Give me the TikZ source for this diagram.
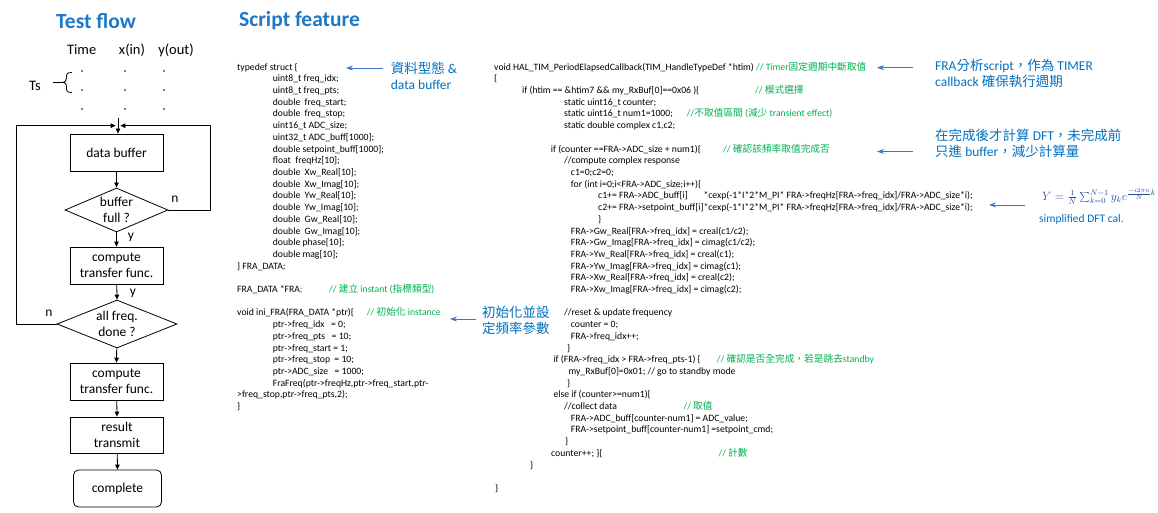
\documentclass[tikz,border=0pt]{standalone}
\usepackage{fontspec}
\setmainfont{Carlito}
\newfontfamily\cjk{Noto Sans CJK TC}
\usetikzlibrary{arrows.meta,shapes.geometric}

\definecolor{titleblue}{RGB}{31,119,200}
\definecolor{noteblue}{RGB}{0,112,192}
\definecolor{mathblue}{RGB}{31,78,160}
\definecolor{arrowblue}{RGB}{68,114,196}
\definecolor{cmtgreen}{RGB}{0,176,80}

% vertical position of a code line (11.7pt line pitch)
\newcommand\rowy[1]{67.7+11.7*#1}

\begin{document}
\begin{tikzpicture}[x=1pt,y=-1pt,
  title/.style={font=\fontsize{21.5}{24}\selectfont\bfseries, text=titleblue, inner sep=0pt},
  flow/.style={font=\fontsize{13.5}{16}\selectfont, inner sep=0pt},
  head/.style={font=\fontsize{14.5}{17}\selectfont, inner sep=0pt},
  box/.style={draw, line width=0.8pt, minimum width=93pt, minimum height=37pt, align=center, inner sep=0pt, font=\fontsize{13.5}{16}\selectfont},
  dia/.style={draw, diamond, line width=0.8pt, inner sep=0pt},
  arr/.style={-{Triangle[length=5pt,width=4.5pt]}, line width=0.8pt},
  barr/.style={-{Stealth[length=7pt,width=5pt]}, draw=arrowblue, line width=0.9pt},
  code/.style={anchor=west, inner sep=0pt, font=\fontsize{9.7}{11.7}\selectfont, text height=7pt, text depth=2pt},
  cmt/.style={code, text=cmtgreen},
  note/.style={anchor=west, align=left, inner sep=0pt, text=noteblue, font=\fontsize{13.5}{16}\selectfont}]
\useasboundingbox (0,0) rectangle (1158,513);

% ---------- titles ----------
\node[title] (t1) at (96,21) {Test flow};
\node[title, anchor=west] (t2) at (239,21) {Script feature};

% ---------- sample table ----------
\node[head] (hT) at (81.7,50) {Time};
\node[head] (hx) at (132,50) {x(in)};
\node[head] (hy) at (176,50) {y(out)};
\foreach \yy in {71,90,109} {
  \fill (82,\yy) circle (0.9pt);
  \fill (125,\yy) circle (0.9pt);
  \fill (164,\yy) circle (0.9pt);
}
\node[head] (ts) at (35,86) {Ts};
\draw[line width=0.8pt] (72,72.5) .. controls (66.5,72.5) and (66.5,74) .. (66.5,78)
  .. controls (66.5,81) and (65,82.3) .. (63,82.3)
  .. controls (65,82.6) and (66.5,83.5) .. (66.5,87)
  .. controls (66.5,91) and (66.5,92.5) .. (72,92.5);
\draw[line width=0.8pt] (53,82.3) -- (63,82.3);

% ---------- flow chart ----------
\node[box] (db) at (116.5,152.5) {data buffer};
\node[dia, minimum width=103pt, minimum height=44pt] (bf) at (116.5,210) {};
\node[flow, align=center] (bft) at (116.5,210) {buffer\\full ?};
\node[box] (ctf1) at (116.5,265.5) {compute\\transfer func.};
\node[dia, minimum width=120pt, minimum height=48pt] (af) at (117,324) {};
\node[flow, align=center] (aft) at (117,324) {all freq.\\done ?};
\node[box] (ctf2) at (116.5,381.5) {compute\\transfer func.};
\node[box, minimum height=36pt] (rt) at (117,435) {result\\transmit};
\node[box, rounded corners=5pt, minimum width=88pt] (cp) at (117.5,488.5) {complete};

\coordinate (jt) at (118,118.5);
\coordinate (rc) at (210,125.7);
\coordinate (lc) at (16.7,125.7);
\coordinate (jr) at (120.3,125.7);
\coordinate (jl) at (115.7,125.7);

\draw[arr] (jt) -- (jt |- db.north);
\draw[arr] (db) -- (bf.north);
\draw[arr] (bf) -- (ctf1.north);
\draw[arr] (ctf1) -- (af.north);
\draw[arr] (af) -- (ctf2.north);
\draw[arr] (ctf2) -- (rt.north);
\draw[arr] (rt) -- (cp.north);
\draw[arr] (bf.east) -| (rc) -- (jr);
\draw[arr] (af.west) -| (lc) -- (jl);

\node[flow] (ln1) at (175,199) {n};
\node[flow] (ly1) at (131,237) {y};
\node[flow] (ly2) at (133,293) {y};
\node[flow] (ln2) at (49,313) {n};

% ---------- struct and init code ----------
\node[code] (a0) at (237,\rowy{0}) {typedef struct \{};
\node[code] (a1) at (272.7,\rowy{1}) {uint8\_t freq\_idx;};
\node[code] (a2) at (272.7,\rowy{2}) {uint8\_t freq\_pts;};
\node[code] (a3) at (272.7,\rowy{3}) {double\ \ freq\_start;};
\node[code] (a4) at (272.7,\rowy{4}) {double\ \ freq\_stop;};
\node[code] (a5) at (272.7,\rowy{5}) {uint16\_t ADC\_size;};
\node[code] (a6) at (272.7,\rowy{6}) {uint32\_t ADC\_buff[1000];};
\node[code] (a7) at (272.7,\rowy{7}) {double setpoint\_buff[1000];};
\node[code] (a8) at (272.7,\rowy{8}) {float\ \ freqHz[10];};
\node[code] (a9) at (272.7,\rowy{9}) {double\ \ Xw\_Real[10];};
\node[code] (a10) at (272.7,\rowy{10}) {double\ \ Xw\_Imag[10];};
\node[code] (a11) at (272.7,\rowy{11}) {double\ \ Yw\_Real[10];};
\node[code] (a12) at (272.7,\rowy{12}) {double\ \ Yw\_Imag[10];};
\node[code] (a13) at (272.7,\rowy{13}) {double\ \ Gw\_Real[10];};
\node[code] (a14) at (272.7,\rowy{14}) {double\ \ Gw\_Imag[10];};
\node[code] (a15) at (272.7,\rowy{15}) {double phase[10];};
\node[code] (a16) at (272.7,\rowy{16}) {double mag[10];};
\node[code] (a17) at (237,\rowy{17}) {\} FRA\_DATA;};
\node[code] (a19) at (237,\rowy{19}) {FRA\_DATA *FRA\textcolor{noteblue}{;}};
\node[cmt] (c19) at (329,\rowy{19}) {// {\cjk 建立} instant ({\cjk 指標類型})};
\node[code] (a21) at (237,\rowy{21}) {void ini\_FRA(FRA\_DATA *ptr)\{};
\node[cmt] (c21) at (366.7,\rowy{21}) {// {\cjk 初始化} instance};
\node[code] (a22) at (272.7,\rowy{22}) {ptr->freq\_idx\ \ \ = 0;};
\node[code] (a23) at (272.7,\rowy{23}) {ptr->freq\_pts\ \ \ = 10;};
\node[code] (a24) at (272.7,\rowy{24}) {ptr->freq\_start = 1;};
\node[code] (a25) at (272.7,\rowy{25}) {ptr->freq\_stop\ \ = 10;};
\node[code] (a26) at (272.7,\rowy{26}) {ptr->ADC\_size\ \ \ = 1000;};
\node[code] (a27) at (272.7,\rowy{27}) {FraFreq(ptr->freqHz,ptr->freq\_start,ptr-};
\node[code] (a28) at (237,\rowy{28}) {>freq\_stop,ptr->freq\_pts,2);};
\node[code] (a29) at (237,\rowy{29}) {\}};

% ---------- timer callback code ----------
\node[code] (b0) at (494,\rowy{0}) {void HAL\_TIM\_PeriodElapsedCallback(TIM\_HandleTypeDef *htim) \textcolor{cmtgreen}{// Timer{\cjk 固定週期中斷取值}}};
\node[code] (b1) at (494,\rowy{1}) {\{};
\node[code] (b2) at (522,\rowy{2}) {if (htim == \&htim7 \&\& my\_RxBuf[0]==0x06 )\{};
\node[cmt] (d2) at (755,\rowy{2}) {// {\cjk 模式選擇}};
\node[code] (b3) at (564,\rowy{3}) {static uint16\_t counter;};
\node[code] (b4) at (564,\rowy{4}) {static uint16\_t num1=1000;};
\node[cmt] (d4) at (686.7,\rowy{4}) {//{\cjk 不取值區間} ({\cjk 減少} transient effect)};
\node[code] (b5) at (564,\rowy{5}) {static double complex c1,c2;};
\node[code] (b7) at (550.7,\rowy{7}) {if (counter ==FRA->ADC\_size + num1)\{};
\node[cmt] (d7) at (723,\rowy{7}) {// {\cjk 確認該頻率取值完成否}};
\node[code] (b8) at (564,\rowy{8}) {//compute complex response};
\node[code] (b9) at (570.7,\rowy{9}) {c1=0;c2=0;};
\node[code] (b10) at (570.7,\rowy{10}) {for (int i=0;i<FRA->ADC\_size;i++)\{};
\node[code] (b11) at (598,\rowy{11}) {\rlap{c1+= FRA->ADC\_buff[i]}\phantom{c2+= FRA->setpoint\_buff[i]}*cexp(-1*I*2*M\_PI* FRA->freqHz[FRA->freq\_idx]/FRA->ADC\_size*i);};
\node[code] (b12) at (598,\rowy{12}) {c2+= FRA->setpoint\_buff[i]*cexp(-1*I*2*M\_PI* FRA->freqHz[FRA->freq\_idx]/FRA->ADC\_size*i);};
\node[code] (b13) at (598,\rowy{13}) {\}};
\node[code] (b14) at (570.7,\rowy{14}) {FRA->Gw\_Real[FRA->freq\_idx] = creal(c1/c2);};
\node[code] (b15) at (570.7,\rowy{15}) {FRA->Gw\_Imag[FRA->freq\_idx] = cimag(c1/c2);};
\node[code] (b16) at (570.7,\rowy{16}) {FRA->Yw\_Real[FRA->freq\_idx] = creal(c1);};
\node[code] (b17) at (570.7,\rowy{17}) {FRA->Yw\_Imag[FRA->freq\_idx] = cimag(c1);};
\node[code] (b18) at (570.7,\rowy{18}) {FRA->Xw\_Real[FRA->freq\_idx] = creal(c2);};
\node[code] (b19) at (570.7,\rowy{19}) {FRA->Xw\_Imag[FRA->freq\_idx] = cimag(c2);};
\node[code] (b21) at (564,\rowy{21}) {//reset \& update frequency};
\node[code] (b22) at (570.7,\rowy{22}) {counter = 0;};
\node[code] (b23) at (570.7,\rowy{23}) {FRA->freq\_idx++;};
\node[code] (b24) at (567,\rowy{24}) {\}};
\node[code] (b25) at (553.3,\rowy{25}) {if (FRA->freq\_idx > FRA->freq\_pts-1) \{};
\node[cmt] (d25) at (716.7,\rowy{25}) {// {\cjk 確認是否全完成，若是跳去}standby};
\node[code] (b26) at (568.3,\rowy{26}) {my\_RxBuf[0]=0x01; // go to standby mode};
\node[code] (b27) at (567,\rowy{27}) {\}};
\node[code] (b28) at (553.3,\rowy{28}) {else if (counter>=num1)\{};
\node[code] (b29) at (564,\rowy{29}) {//collect data};
\node[cmt] (d29) at (683.3,\rowy{29}) {// {\cjk 取值}};
\node[code] (b30) at (570.7,\rowy{30}) {FRA->ADC\_buff[counter-num1] = ADC\_value;};
\node[code] (b31) at (570.7,\rowy{31}) {FRA->setpoint\_buff[counter-num1] =setpoint\_cmd;};
\node[code] (b32) at (565,\rowy{32}) {\}};
\node[code] (b33) at (551,\rowy{33}) {counter++; \}\{};
\node[cmt] (d33) at (718.3,\rowy{33}) {// {\cjk 計數}};
\node[code] (b34) at (530,\rowy{34}) {\}};
\node[code] (b36) at (495,\rowy{36}) {\}};

% ---------- notes ----------
\node[note] (n1) at (390.7,76.3) {{\cjk 資料型態} \&\\data buffer};
\node[note] (n2) at (482,320.4) {{\cjk 初始化並設}\\{\cjk 定頻率參數}};
\node[note] (n3) at (935,73.8) {FRA{\cjk 分析}script{\cjk ，作為} TIMER\\callback {\cjk 確保執行週期}};
\node[note] (n4) at (935,143) {{\cjk 在完成後才計算} DFT{\cjk ，未完成前}\\{\cjk 只進} buffer{\cjk ，減少計算量}};
\node[note, text=mathblue, font=\fontsize{12}{14}\selectfont] (dft) at (1042,196.5)
  {$Y=\frac{1}{N}\sum_{k=0}^{N-1}y_k e^{\frac{-i2\pi n}{N}k}$};
\node[note, font=\fontsize{11.5}{14}\selectfont] (n5) at (1039,219) {simplified DFT cal.};

\coordinate (s1) at (383,68);   \coordinate (e1) at (346,68);
\coordinate (s2) at (476,319);  \coordinate (e2) at (450,319);
\coordinate (s3) at (913,67.7); \coordinate (e3) at (877,67.7);
\coordinate (s4) at (913,151.5);\coordinate (e4) at (877,151.5);
\coordinate (s5) at (1025,205); \coordinate (e5) at (989,205);
\draw[barr] (s1) -- (e1);
\draw[barr] (s2) -- (e2);
\draw[barr] (s3) -- (e3);
\draw[barr] (s4) -- (e4);
\draw[barr] (s5) -- (e5);
\end{tikzpicture}
\end{document}
